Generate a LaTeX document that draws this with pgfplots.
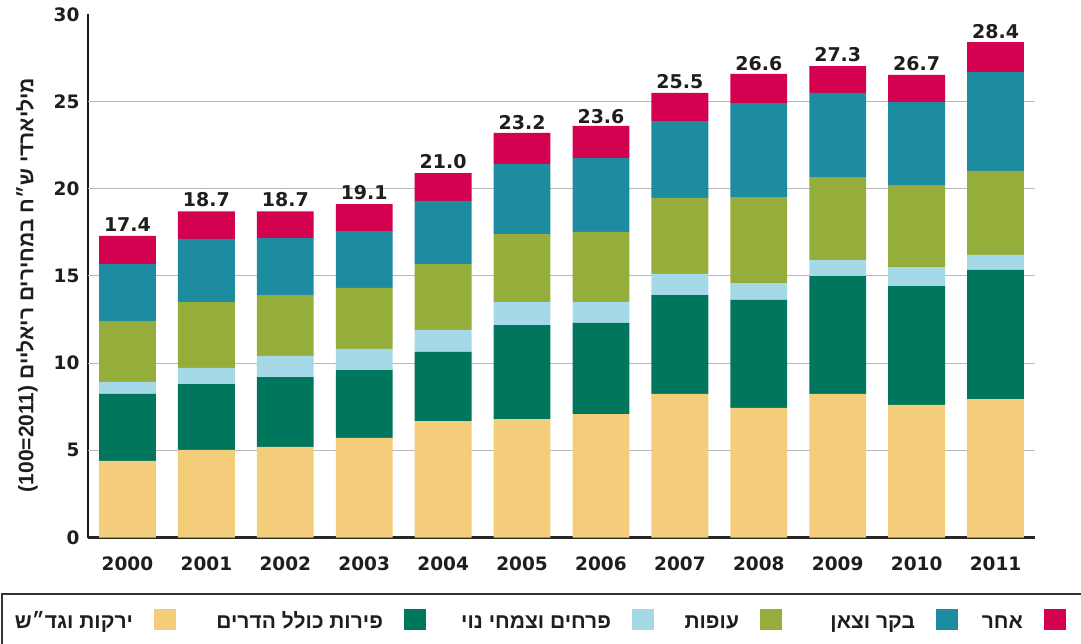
\documentclass[border=0pt]{standalone}
\usepackage{pgfplots}
\pgfplotsset{compat=1.18}
\usepackage{fontspec}
\setmainfont{DejaVu Sans}
\newfontfamily\hebfont[Script=Hebrew]{Liberation Sans}
\newfontfamily\latfont{Liberation Sans}
\TeXXeTstate=1
\definecolor{cYel}{RGB}{243,205,122}
\definecolor{cDG}{RGB}{0,118,92}
\definecolor{cLB}{RGB}{166,217,232}
\definecolor{cOL}{RGB}{149,174,59}
\definecolor{cTE}{RGB}{29,140,161}
\definecolor{cCR}{RGB}{212,0,80}
\definecolor{txt}{RGB}{30,30,30}
\pgfplotsset{sqlegend/.style={legend image code/.code={\fill[##1,draw=none] (0pt,-2pt) rectangle (22pt,19pt);}}}
\begin{document}
\begin{tikzpicture}
\begin{axis}[
  at={(88pt,105.5pt)}, anchor=south west,
  scale only axis, width=947pt, height=523.2pt,
  ybar stacked, bar width=0.72,
  xmin=-0.5, xmax=11.5, ymin=0, ymax=30,
  xtick={0,...,11},
  xticklabels={2000,2001,2002,2003,2004,2005,2006,2007,2008,2009,2010,2011},
  ytick={0,5,...,30},
  extra y ticks={5,10,...,25}, extra y tick labels={},
  extra y tick style={ymajorgrids=true},
  major grid style={line width=1.2pt, color=black!28},
  axis x line=bottom, axis y line=left,
  x axis line style={-, line width=2.5pt, color=black!85},
  y axis line style={-, line width=2pt, color=black!90},
  major tick length=0pt,
  /pgf/number format/assume math mode=true,
  ticklabel style={font=\bfseries\fontsize{18.5}{20}\selectfont, text=txt},
  yticklabel style={xshift=-5pt},
  xticklabel style={yshift=-16pt},
  ylabel={\hebfont\bfseries\beginR מיליארדי ש״ח במחירים ריאליים \beginL{\latfont\bfseries(100=2011)}\endL\endR},
  ylabel style={at={(axis description cs:-0.0644,0.4826)}, anchor=center, font=\fontsize{21}{22}\selectfont, text=txt},
  legend columns=6,
  legend plot pos=right,
  legend style={at={(axis description cs:1.0327,-0.157)}, anchor=east, draw=none, fill=none, inner sep=0pt, outer sep=0pt, column sep=0pt, nodes={inner sep=0pt, outer sep=0pt}, cells={anchor=base}, font=\hebfont\bfseries\fontsize{21}{22}\selectfont, text=txt},
]
\addplot[fill=cYel, draw=none, sqlegend] coordinates {(0,4.39) (1,5.02) (2,5.19) (3,5.71) (4,6.68) (5,6.79) (6,7.08) (7,8.23) (8,7.43) (9,8.23) (10,7.60) (11,7.94)};
\addlegendentry{\makebox[139pt][r]{\beginR ירקות וגד״ש\endR\hspace{21pt}}}
\addplot[fill=cDG, draw=none, sqlegend] coordinates {(0,3.84) (1,3.78) (2,4.01) (3,3.89) (4,3.96) (5,5.39) (6,5.22) (7,5.67) (8,6.19) (9,6.76) (10,6.82) (11,7.40)};
\addlegendentry{\makebox[228pt][r]{\beginR פירות כולל הדרים\endR\hspace{21pt}}}
\addplot[fill=cLB, draw=none, sqlegend] coordinates {(0,0.69) (1,0.92) (2,1.21) (3,1.21) (4,1.26) (5,1.32) (6,1.20) (7,1.21) (8,0.97) (9,0.92) (10,1.09) (11,0.86)};
\addlegendentry{\makebox[206pt][r]{\beginR פרחים וצמחי נוי\endR\hspace{21pt}}}
\addplot[fill=cOL, draw=none, sqlegend] coordinates {(0,3.49) (1,3.78) (2,3.49) (3,3.50) (4,3.78) (5,3.90) (6,4.02) (7,4.36) (8,4.93) (9,4.76) (10,4.70) (11,4.82)};
\addlegendentry{\makebox[106pt][r]{\beginR עופות\endR\hspace{21pt}}}
\addplot[fill=cTE, draw=none, sqlegend] coordinates {(0,3.27) (1,3.62) (2,3.27) (3,3.26) (4,3.62) (5,4.02) (6,4.24) (7,4.41) (8,5.39) (9,4.82) (10,4.76) (11,5.67)};
\addlegendentry{\makebox[154pt][r]{\beginR בקר וצאן\endR\hspace{21pt}}}
\addplot[fill=cCR, draw=none, sqlegend,
  point meta=explicit symbolic,
  nodes near coords,
  every node near coord/.append style={font=\bfseries\fontsize{19}{20}\selectfont, text=txt, anchor=south, inner sep=0pt, yshift=18pt}]
  coordinates {(0,1.61)[17.4] (1,1.58)[18.7] (2,1.53)[18.7] (3,1.55)[19.1] (4,1.60)[21.0] (5,1.78)[23.2] (6,1.84)[23.6] (7,1.61)[25.5] (8,1.67)[26.6] (9,1.54)[27.3] (10,1.55)[26.7] (11,1.72)[28.4]};
\addlegendentry{\makebox[86pt][r]{\beginR אחר\endR\hspace{21pt}}}
\end{axis}
\draw[line width=1.6pt, color=black!80] (1.7pt,-40pt) -- (1.7pt,49pt) -- (1120pt,49pt);
\pgfresetboundingbox
\path[use as bounding box] (0pt,0pt) rectangle (1081pt,643pt);
\end{tikzpicture}
\end{document}
